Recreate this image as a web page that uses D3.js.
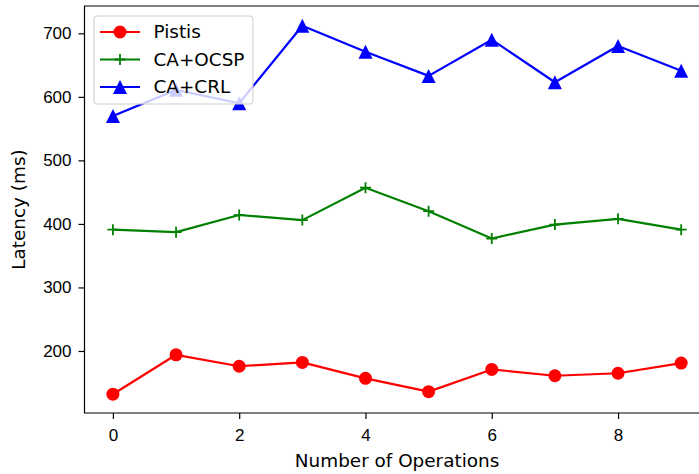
<!DOCTYPE html>
<html>
<head>
<meta charset="utf-8">
<script src="https://cdn.jsdelivr.net/npm/d3@7"></script>
<style>
  body { margin: 0; background: #fff; }
  svg { display: block; font-family: "DejaVu Sans", sans-serif; }
</style>
</head>
<body>
<div id="chart"></div>
<script>
// operation index on x
const operations = [0, 1, 2, 3, 4, 5, 6, 7, 8, 9];
const pistis = [132, 194, 176, 182, 157, 136, 171, 161, 165, 181];
const caOcsp = [391, 387, 414, 406, 457, 420, 377, 399, 408, 391];
const caCrl = [570, 611, 590, 712, 671, 633, 690, 623, 680, 641];
const xTicks = [0, 2, 4, 6, 8];
const yTicks = [200, 300, 400, 500, 600, 700];

const series = [
    { name: "Pistis", values: pistis, color: "#ff0000", marker: "circle" },
    { name: "CA+OCSP", values: caOcsp, color: "#008000", marker: "plus" },
    { name: "CA+CRL", values: caCrl, color: "#0000ff", marker: "triangle" }
];

const W = 699, H = 474;
const mLeft = 84.5, mTop = 6, mBottom = 413, mRight = 709.6;

const svg = d3.select("#chart").append("svg")
    .attr("width", W)
    .attr("height", H);

const x = d3.scaleLinear().domain([-0.45, 9.45]).range([mLeft, mRight]);
const y = d3.scaleLinear().domain([102.4, 743]).range([mBottom, mTop]);

// axes
svg.append("g")
    .attr("transform", `translate(0,${mBottom})`)
    .call(d3.axisBottom(x).tickValues(xTicks).tickSize(6).tickPadding(9.5).tickFormat(d3.format("d")))
    .call(g => g.select(".domain").remove())
    .call(g => g.selectAll("text").style("font-size", "17px").attr("fill", "#000"))
    .call(g => g.selectAll("line").attr("stroke", "#000").attr("stroke-width", 1.2));

svg.append("g")
    .attr("transform", `translate(${mLeft},0)`)
    .call(d3.axisLeft(y).tickValues(yTicks).tickSize(6).tickPadding(7))
    .call(g => g.select(".domain").remove())
    .call(g => g.selectAll("text").style("font-size", "17px").attr("fill", "#000"))
    .call(g => g.selectAll("line").attr("stroke", "#000").attr("stroke-width", 1.2));

// spines
svg.append("path")
    .attr("d", `M${mRight},${mTop}H${mLeft}V${mBottom}H${mRight}`)
    .attr("fill", "none")
    .attr("stroke", "#000")
    .attr("stroke-width", 1.2);

const line = d3.line()
    .x((d, i) => x(operations[i]))
    .y(d => y(d));

function drawMarker(g, type, cx, cy, color) {
    if (type === "circle") {
        g.append("circle").attr("cx", cx).attr("cy", cy).attr("r", 6.5).attr("fill", color);
    } else if (type === "plus") {
        g.append("path")
            .attr("d", `M${cx - 5.5},${cy}H${cx + 5.5}M${cx},${cy - 5.5}V${cy + 5.5}`)
            .attr("stroke", color).attr("stroke-width", 1.8).attr("fill", "none");
    } else {
        const s = 7;
        g.append("path")
            .attr("d", `M${cx},${cy - s}L${cx + s},${cy + s}L${cx - s},${cy + s}Z`)
            .attr("fill", color);
    }
}

series.forEach(s => {
    svg.append("path")
        .datum(s.values)
        .attr("d", line)
        .attr("fill", "none")
        .attr("stroke", s.color)
        .attr("stroke-width", 2.2)
        .attr("stroke-linejoin", "round");
    const mg = svg.append("g");
    s.values.forEach((v, i) => drawMarker(mg, s.marker, x(operations[i]), y(v), s.color));
});

// axis labels
svg.append("text")
    .attr("x", (mLeft + mRight) / 2)
    .attr("y", 467)
    .attr("text-anchor", "middle")
    .style("font-size", "18.4px")
    .text("Number of Operations");

svg.append("text")
    .attr("transform", `translate(24.5,${(mTop + mBottom) / 2}) rotate(-90)`)
    .attr("text-anchor", "middle")
    .style("font-size", "18.4px")
    .text("Latency (ms)");

// legend
const lg = svg.append("g");
lg.append("rect")
    .attr("x", 94).attr("y", 16)
    .attr("width", 159).attr("height", 88)
    .attr("rx", 3)
    .attr("fill", "#fff").attr("fill-opacity", 0.8)
    .attr("stroke", "#cccccc").attr("stroke-width", 1);

series.forEach((s, i) => {
    const cy = 32 + i * 27.5;
    lg.append("path")
        .attr("d", `M100,${cy}H140`)
        .attr("stroke", s.color).attr("stroke-width", 2.2);
    drawMarker(lg, s.marker, 120, cy, s.color);
    lg.append("text")
        .attr("x", 153.5).attr("y", cy + 6.4)
        .style("font-size", "18.4px")
        .text(s.name);
});
</script>
</body>
</html>
